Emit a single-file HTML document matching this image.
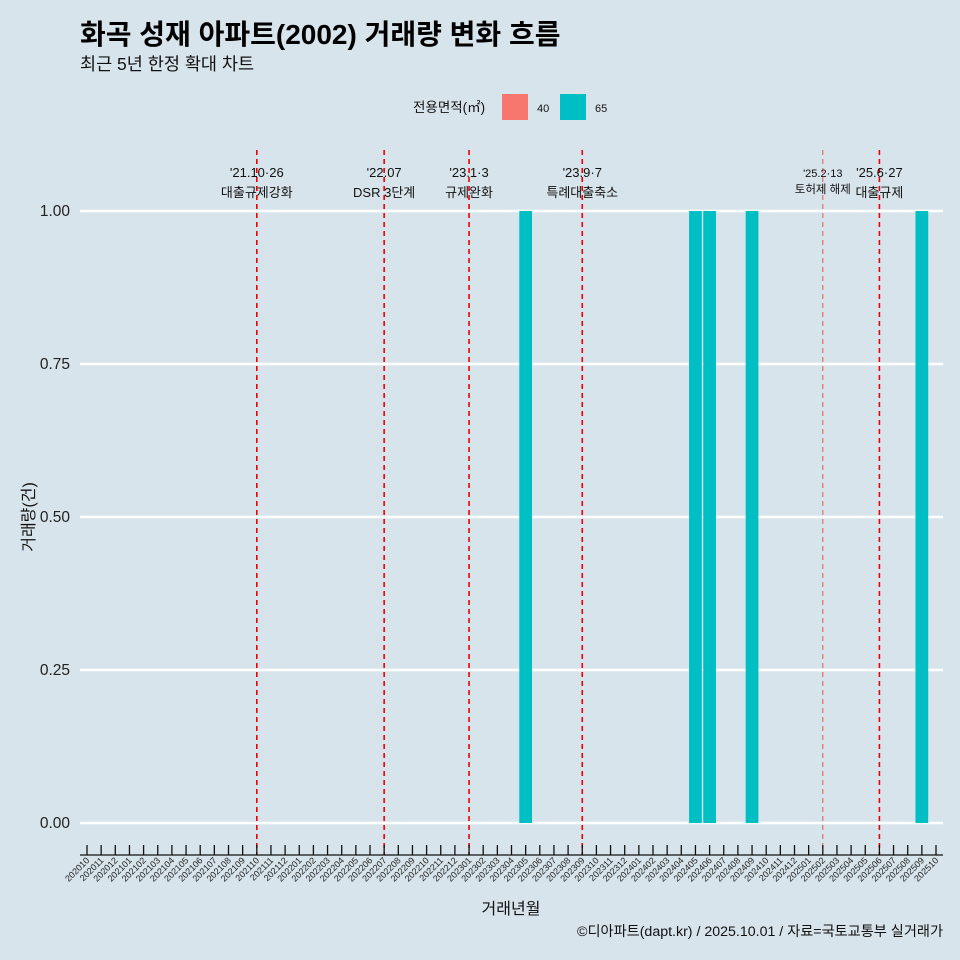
<!DOCTYPE html>
<html><head><meta charset="utf-8"><style>
body{margin:0;background:#d7e4eb;}
svg{display:block;font-family:"Liberation Sans","Noto Sans CJK KR",sans-serif;}
</style></head><body>
<svg width="960" height="960" viewBox="0 0 960 960">
<rect width="960" height="960" fill="#d7e4eb"/>
<text x="80" y="44" font-size="28" font-weight="bold" fill="#000">화곡 성재 아파트(2002) 거래량 변화 흐름</text>
<text x="80" y="70" font-size="17.5" fill="#111">최근 5년 한정 확대 차트</text>
<g>
<text x="413" y="112" font-size="13.5" fill="#111">전용면적(㎡)</text>
<rect x="502" y="94" width="26" height="26" fill="#f8766d"/>
<text x="537" y="112" font-size="11" fill="#111">40</text>
<rect x="560" y="94" width="26" height="26" fill="#00bfc4"/>
<text x="595" y="112" font-size="11" fill="#111">65</text>
</g>
<g id="grid"></g>
<g id="bars"></g>
<g id="events"></g>
<g id="axes"></g>
<text x="511" y="914" font-size="16" text-anchor="middle" fill="#111">거래년월</text>
<text transform="translate(34,517) rotate(-90)" font-size="16" text-anchor="middle" fill="#111">거래량(건)</text>
<text x="943" y="936" font-size="14.2" text-anchor="end" fill="#111">©디아파트(dapt.kr) / 2025.10.01 / 자료=국토교통부 실거래가</text>
</svg>
<script>
const months = [];
for (let y = 2020; y <= 2025; y++) for (let m = 1; m <= 12; m++) {
  const k = y * 100 + m;
  if (k >= 202010 && k <= 202510) months.push(String(k));
}
const barMonths = ["202305","202405","202406","202409","202509"];
const barValues = [1,1,1,1,1];
const barSizes = ["65","65","65","65","65"];
const yTicks = [0, 0.25, 0.5, 0.75, 1];
const yTickLabels = ["0.00","0.25","0.50","0.75","1.00"];
const eventMonths = ["202110","202207","202301","202309","202502","202506"];
const eventLine1 = ["'21.10·26","'22.07","'23.1·3","'23.9·7","'25.2·13","'25.6·27"];
const eventLine2 = ["대출규제강화","DSR 3단계","규제완화","특례대출축소","토허제 해제","대출규제"];

const NS = "http://www.w3.org/2000/svg";
const x0 = 87, step = (936 - 87) / 60;
const xScale = m => x0 + months.indexOf(m) * step;
const yScale = v => 823 - v * (823 - 211);
function mk(tag, attrs, parent) {
  const e = document.createElementNS(NS, tag);
  for (const k in attrs) e.setAttribute(k, attrs[k]);
  document.getElementById(parent).appendChild(e);
  return e;
}
yTicks.forEach((t, i) => {
  const l = mk("line", {x1: 80, x2: 943, y1: yScale(t), y2: yScale(t), stroke: "#fff", "stroke-width": 2.5}, "grid");
  
  
  const tx = mk("text", {x: 70, y: yScale(t) + 5, "font-size": 15.5, "text-anchor": "end", fill: "#222"}, "axes");
  tx.textContent = yTickLabels[i];
  
  
});
const bw = step * 0.9;
barMonths.forEach((m, i) => {
  const r = mk("rect", {x: xScale(m) - bw / 2, y: yScale(barValues[i]), width: bw, height: yScale(0) - yScale(barValues[i]), fill: barSizes[i] === "40" ? "#f8766d" : "#00bfc4"}, "bars");
  
  
});
eventMonths.forEach((m, i) => {
  const x = xScale(m);
  const small = m === "202502";
  const l = mk("line", {x1: x, x2: x, y1: 150, y2: 855, stroke: small ? "#e8564e" : "#ee0000", "stroke-width": small ? 1 : 1.6, "stroke-dasharray": "5,4"}, "events");
  
  
  const fs = small ? 11.5 : 13;
  const t1 = mk("text", {x: x, y: 177, "font-size": small ? 11 : 13, "text-anchor": "middle", fill: "#111"}, "events");
  t1.textContent = eventLine1[i];
  
  
  const t2 = mk("text", {x: x, y: small ? 193 : 197, "font-size": fs, "text-anchor": "middle", fill: "#111"}, "events");
  t2.textContent = eventLine2[i];
  
  
});
const ax = mk("line", {x1: 80, x2: 943, y1: 855, y2: 855, stroke: "#111", "stroke-width": 1.3}, "axes");


months.forEach(m => {
  const x = xScale(m);
  const tk = mk("line", {x1: x, x2: x, y1: 845, y2: 855, stroke: "#111", "stroke-width": 1.3}, "axes");
  
  
  const tx = mk("text", {transform: `translate(${x + 3},861) rotate(-45)`, "font-size": 9, "text-anchor": "end", fill: "#222"}, "axes");
  tx.textContent = m;
  
  
});
</script>
</body></html>
